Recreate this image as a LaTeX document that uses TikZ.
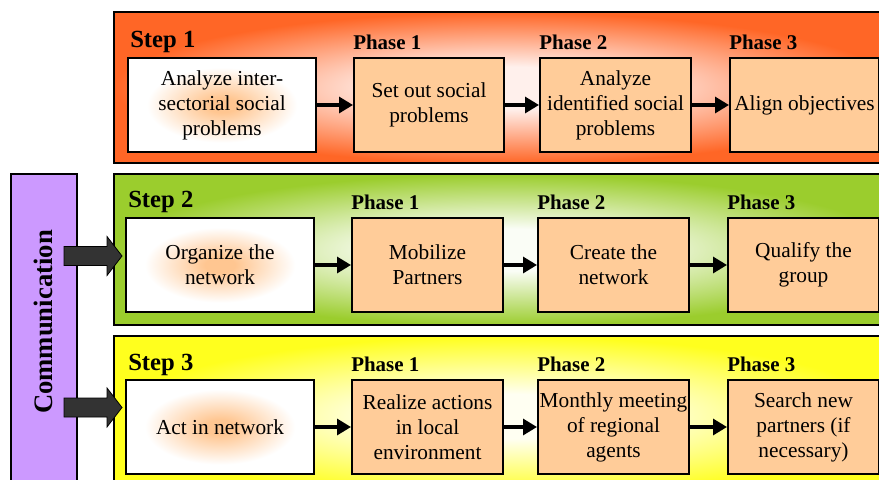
\documentclass[tikz,border=0pt]{standalone}
\usepackage{fontspec}
\setmainfont{Liberation Serif}
\usetikzlibrary{calc,arrows.meta}
\definecolor{orng}{RGB}{255,102,38}
\definecolor{orngin}{RGB}{255,240,236}
\definecolor{grn}{RGB}{155,205,45}
\definecolor{grnin}{RGB}{250,253,246}
\definecolor{ylw}{RGB}{255,255,30}
\definecolor{ylwin}{RGB}{255,255,242}
\definecolor{phasefill}{RGB}{255,204,153}
\definecolor{glow}{RGB}{255,198,145}
\definecolor{commfill}{RGB}{204,153,255}
\definecolor{bigarr}{RGB}{51,51,51}
\pgfdeclareradialshading{shOrange}{\pgfpoint{0bp}{0bp}}{color(0bp)=(orngin); color(7bp)=(orngin); color(25bp)=(orng); color(50bp)=(orng)}
\pgfdeclareradialshading{shGreen}{\pgfpoint{0bp}{0bp}}{color(0bp)=(grnin); color(7bp)=(grnin); color(25bp)=(grn); color(50bp)=(grn)}
\pgfdeclareradialshading{shYellow}{\pgfpoint{0bp}{0bp}}{color(0bp)=(ylwin); color(7bp)=(ylwin); color(25bp)=(ylw); color(50bp)=(ylw)}
\pgfdeclareradialshading{shGlow}{\pgfpoint{0bp}{0bp}}{color(0bp)=(glow); color(4bp)=(glow); color(20bp)=(white); color(50bp)=(white)}
\newcommand{\boxfont}{\fontsize{16}{18.75}\selectfont}
\begin{document}
\begin{tikzpicture}[x=0.75pt,y=-0.75pt,
  panel/.style={draw=black,line width=1.8pt,anchor=north west,inner sep=0pt,minimum width=586.5pt,shade},
  stepbox/.style={draw=black,line width=1.5pt,shade,shading=shGlow,anchor=north west,minimum width=141pt,minimum height=70.5pt,align=center,inner sep=1pt,font=\boxfont},
  phasebox/.style={draw=black,line width=1.5pt,fill=phasefill,anchor=north west,minimum height=70.5pt,align=center,inner sep=1pt,font=\boxfont},
  steplabel/.style={anchor=base west,inner sep=0pt,font=\bfseries\fontsize{18.5}{22}\selectfont},
  phaselabel/.style={anchor=base west,inner sep=0pt,font=\bfseries\fontsize{15.7}{19}\selectfont},
  link/.style={line width=2.4pt,line cap=round,-{Triangle[length=10.5pt,width=12pt]}},
  bigarrow/.style={fill=bigarr,draw=black,line width=0.6pt,line join=miter}
]
\useasboundingbox (0,0) rectangle (879,479);
\begin{scope}
\clip (0,0) rectangle (879,479);
% panels
\node[panel,shading=shOrange,minimum height=113.25pt] (p1) at (113,11) {};
\node[panel,shading=shGreen,minimum height=113.25pt] (p2) at (113,173) {};
\node[panel,shading=shYellow,minimum height=120pt] (p3) at (113,335) {};
% communication
\node[draw=black,line width=1.2pt,fill=commfill,anchor=north west,minimum width=49.5pt,minimum height=237.75pt,inner sep=0pt] (comm) at (10,173) {};
\node[rotate=90,inner sep=0pt,font=\bfseries\fontsize{20}{24}\selectfont] (commtext) at (43,322) {Communication};
% row 1
\node[stepbox] (s1) at (127,57) {Analyze inter-\\sectorial social\\problems};
\node[phasebox,minimum width=112.5pt] (a1) at (353,57) {Set out social\\problems};
\node[phasebox,minimum width=113.25pt] (a2) at (539,57) {Analyze\\identified social\\problems};
\node[phasebox,minimum width=111.75pt] (a3) at (729,57) {Align objectives};
% row 2
\node[stepbox] (s2) at (125,217) {Organize the\\network};
\node[phasebox,minimum width=113.25pt] (b1) at (351,217) {Mobilize\\Partners};
\node[phasebox,minimum width=113.25pt] (b2) at (537,217) {Create the\\network};
\node[phasebox,minimum width=113.25pt] (b3) at (727,217) {Qualify the\\group};
% row 3
\node[stepbox] (s3) at (125,379) {Act in network};
\node[phasebox,minimum width=113.25pt] (c1) at (351,379) {Realize actions\\in local\\environment};
\node[phasebox,minimum width=113.25pt] (c2) at (537,379) {Monthly meeting\\of regional\\agents};
\node[phasebox,minimum width=113.25pt] (c3) at (727,379) {Search new\\partners (if\\necessary)};
% step labels
\node[steplabel] (l1) at ($(s1.north west)+(3,-10)$) {Step 1};
\node[steplabel] (l2) at ($(s2.north west)+(3,-9.5)$) {Step 2};
\node[steplabel] (l3) at ($(s3.north west)+(3,-9)$) {Step 3};
% phase labels
\foreach \b/\t in {a1/Phase 1,a2/Phase 2,a3/Phase 3,b1/Phase 1,b2/Phase 2,b3/Phase 3,c1/Phase 1,c2/Phase 2,c3/Phase 3}
  \node[phaselabel] (lab\b) at ($(\b.north west)+(0,-7.5)$) {\t};
% links
\foreach \u/\v in {s1/a1,a1/a2,a2/a3,s2/b1,b1/b2,b2/b3,s3/c1,c1/c2,c2/c3}
  \draw[link] (\u.east) -- (\v.west);
% big arrows
\draw[bigarrow] ($(s2.west)+(-3,-9)$) -- ++(-15,-19.5) -- ++(0,10) -- ++(-43,0) -- ++(0,19) -- ++(43,0) -- ++(0,10) -- cycle;
\draw[bigarrow] ($(s3.west)+(-3,-19.5)$) -- ++(-15,-19.5) -- ++(0,10) -- ++(-43,0) -- ++(0,19) -- ++(43,0) -- ++(0,10) -- cycle;
\end{scope}
\end{tikzpicture}
\end{document}
